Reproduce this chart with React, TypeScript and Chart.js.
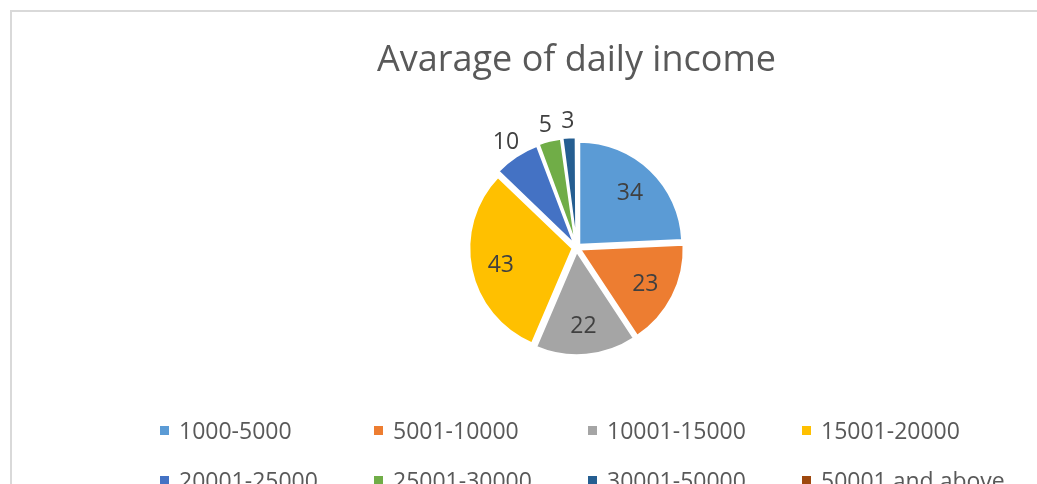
import React, { useEffect, useRef } from "react";
import { Chart, registerables } from "chart.js";

Chart.register(...registerables);

const TITLE = "Avarage of daily income";
const categories = [
  "1000-5000",
  "5001-10000",
  "10001-15000",
  "15001-20000",
  "20001-25000",
  "25001-30000",
  "30001-50000",
  "50001 and above",
];
const counts = [34, 23, 22, 43, 10, 5, 3, 0];
const colors = [
  "#5B9BD5",
  "#ED7D31",
  "#A5A5A5",
  "#FFC000",
  "#4472C4",
  "#70AD47",
  "#255E91",
  "#9E480E",
];

const FONT = "'Open Sans', 'DejaVu Sans', sans-serif";

const labelPlugin = {
  id: "sliceLabels",
  afterDatasetsDraw(chart: any) {
    const ctx = chart.ctx;
    const meta = chart.getDatasetMeta(0);
    const data = chart.data.datasets[0].data as number[];
    const total = data.reduce((a, b) => a + b, 0);
    ctx.save();
    ctx.font = `23px ${FONT}`;
    ctx.fillStyle = "#404040";
    ctx.textAlign = "center";
    ctx.textBaseline = "middle";
    meta.data.forEach((arc: any, i: number) => {
      const v = data[i];
      if (!v) return;
      const mid = (arc.startAngle + arc.endAngle) / 2;
      const r = arc.outerRadius;
      const share = v / total;
      const dist = share < 0.08 ? r + 25 : r * 0.75;
      const x = arc.x + Math.cos(mid) * dist;
      const y = arc.y + Math.sin(mid) * dist + 2;
      ctx.fillText(String(v), x, y);
    });
    ctx.restore();
  },
};

const legendPlugin = {
  id: "gridLegend",
  afterDraw(chart: any) {
    const ctx = chart.ctx;
    const labels = chart.data.labels as string[];
    const bg = chart.data.datasets[0].backgroundColor as string[];
    const startX = 160;
    const colStep = 214;
    const rowY = 426;
    const rowStep = 50;
    const perRow = 4;
    const box = 9;
    ctx.save();
    ctx.font = `23px ${FONT}`;
    ctx.textAlign = "left";
    ctx.textBaseline = "alphabetic";
    labels.forEach((lab, i) => {
      const col = i % perRow;
      const row = Math.floor(i / perRow);
      const x = startX + col * colStep;
      const y = rowY + row * rowStep;
      ctx.fillStyle = bg[i];
      ctx.fillRect(x, y, box, box);
      ctx.fillStyle = "#595959";
      ctx.fillText(lab, x + 19, y + 13);
    });
    ctx.restore();
  },
};

export default function App() {
  const ref = useRef<HTMLCanvasElement | null>(null);

  useEffect(() => {
    if (!ref.current) return;
    const chart = new Chart(ref.current, {
      type: "pie",
      data: {
        labels: categories,
        datasets: [
          {
            data: counts,
            backgroundColor: colors,
            borderColor: "#ffffff",
            borderWidth: 2,
            offset: 16,
            radius: 103,
          } as any,
        ],
      },
      options: {
        responsive: false,
        animation: false,
        layout: { padding: { left: 116, right: 0, top: 0, bottom: 71 } },
        plugins: {
          legend: { display: false },
          tooltip: { enabled: false },
          title: {
            display: true,
            text: TITLE,
            color: "#595959",
            font: { family: FONT, size: 36, weight: "normal" as any },
            padding: { top: 39, bottom: 0 },
          },
        },
      },
      plugins: [labelPlugin, legendPlugin],
    });
    return () => chart.destroy();
  }, []);

  return (
    <div
      style={{
        position: "fixed",
        left: 0,
        top: 0,
        width: 1037,
        height: 484,
        overflow: "hidden",
        background: "#ffffff",
      }}
    >
      <div
        style={{
          position: "absolute",
          left: 10,
          top: 10,
          width: 1200,
          height: 700,
          border: "2px solid #d9d9d9",
          boxSizing: "border-box",
        }}
      />
      <canvas
        ref={ref}
        width={1037}
        height={484}
        style={{ position: "absolute", left: 0, top: 0, width: 1037, height: 484 }}
      />
    </div>
  );
}
